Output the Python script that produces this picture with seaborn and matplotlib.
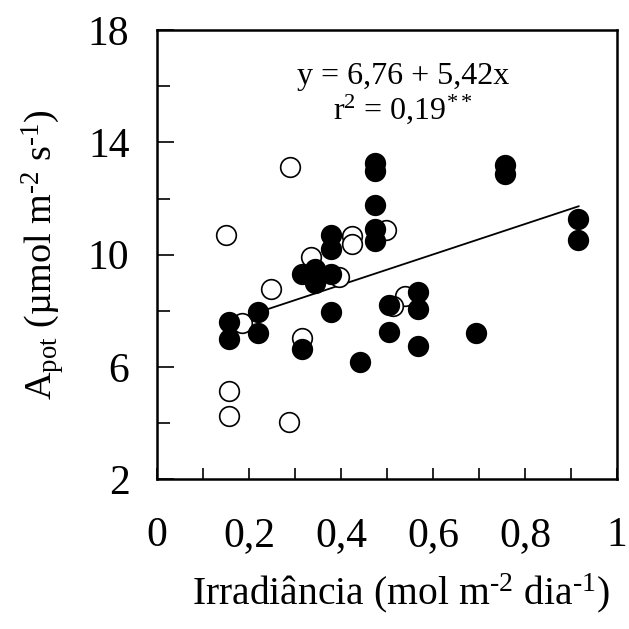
import matplotlib
matplotlib.use("Agg")
import numpy as np
import pandas as pd
import matplotlib.pyplot as plt
import seaborn as sns
from matplotlib.ticker import MultipleLocator, FuncFormatter

# ── data ──────────────────────────────────────────────────────────────────────
open_x = [0.289, 0.149, 0.335, 0.248, 0.184, 0.314, 0.156, 0.156, 0.286,
          0.423, 0.423, 0.396, 0.498, 0.538, 0.512]
open_y = [13.11, 10.71, 9.92, 8.77, 7.56, 7.04, 5.16, 4.26, 4.05,
          10.66, 10.37, 9.19, 10.87, 8.54, 8.18]

filled_x = [0.474, 0.474, 0.474, 0.474, 0.474, 0.377, 0.377, 0.314, 0.344,
            0.344, 0.377, 0.220, 0.156, 0.156, 0.220, 0.314, 0.377, 0.441,
            0.757, 0.757, 0.916, 0.916, 0.567, 0.567, 0.504, 0.504, 0.567,
            0.694]
filled_y = [13.27, 12.97, 11.79, 10.90, 10.49, 10.72, 10.19, 9.30, 9.48,
            9.01, 9.30, 7.97, 7.61, 7.00, 7.20, 6.65, 7.95, 6.17,
            13.20, 12.88, 11.26, 10.51, 8.66, 8.06, 8.20, 7.24, 6.76,
            7.20]

intercept = 6.76
slope = 5.42
fit_range = [0.242, 0.917]

x_ticks = [0, 0.2, 0.4, 0.6, 0.8, 1.0]
y_ticks = [2, 6, 10, 14, 18]

# ── style ─────────────────────────────────────────────────────────────────────
sns.set_style("ticks")
plt.rcParams["font.family"] = ["Liberation Serif", "DejaVu Serif"]
plt.rcParams["mathtext.fontset"] = "custom"
plt.rcParams["mathtext.rm"] = "Liberation Serif"
plt.rcParams["mathtext.it"] = "Liberation Serif:italic"
plt.rcParams["mathtext.default"] = "regular"
for key in ["text.color", "axes.labelcolor", "xtick.color", "ytick.color",
            "axes.edgecolor"]:
    plt.rcParams[key] = "black"

fig = plt.figure(figsize=(6.29, 6.29), dpi=100)
ax = fig.add_axes([0.25, 0.238, 0.731, 0.714])

df_open = pd.DataFrame({"x": open_x, "y": open_y})
df_fill = pd.DataFrame({"x": filled_x, "y": filled_y})

sns.scatterplot(data=df_open, x="x", y="y", ax=ax, s=200, color="white",
                edgecolor="black", linewidth=1.2, zorder=3)
sns.scatterplot(data=df_fill, x="x", y="y", ax=ax, s=200, color="black",
                edgecolor="black", linewidth=1.2, zorder=4)

xf = np.array(fit_range)
sns.lineplot(x=xf, y=intercept + slope * xf, ax=ax, color="black", lw=1.3,
             zorder=2)

ax.text(0.535, 16.35, "y = 6,76 + 5,42x", ha="center", va="center",
        fontsize=23)
ax.text(0.535, 15.2, r"r$^{2}$ = 0,19$^{**}$", ha="center", va="center",
        fontsize=23)

ax.set_xlim(0, 1)
ax.set_ylim(2, 18)
ax.set_xticks(x_ticks)
ax.xaxis.set_minor_locator(MultipleLocator(0.1))
ax.set_yticks(y_ticks)
ax.yaxis.set_minor_locator(MultipleLocator(2))
comma = FuncFormatter(lambda v, p: ("%g" % v).replace(".", ","))
ax.xaxis.set_major_formatter(comma)

ax.tick_params(axis="x", which="both", direction="in", length=8, width=1.2,
               pad=27, labelsize=30)
ax.tick_params(axis="y", which="major", direction="in", length=12, width=1.2,
               pad=20, labelsize=30)
ax.tick_params(axis="y", which="minor", direction="in", length=9, width=1.2)

for sp in ax.spines.values():
    sp.set_linewidth(1.8)
    sp.set_visible(True)

ax.set_xlabel(r"Irradiância (mol m$^{\text{-}2}$ dia$^{\text{-}1}$)",
              fontsize=28.5)
ax.xaxis.set_label_coords(0.53, -0.205)
ax.set_ylabel(r"A$_{pot}$ (µmol m$^{\text{-}2}$ s$^{\text{-}1}$)",
              fontsize=27.5, labelpad=16)

fig.savefig("out.png", dpi=100)
